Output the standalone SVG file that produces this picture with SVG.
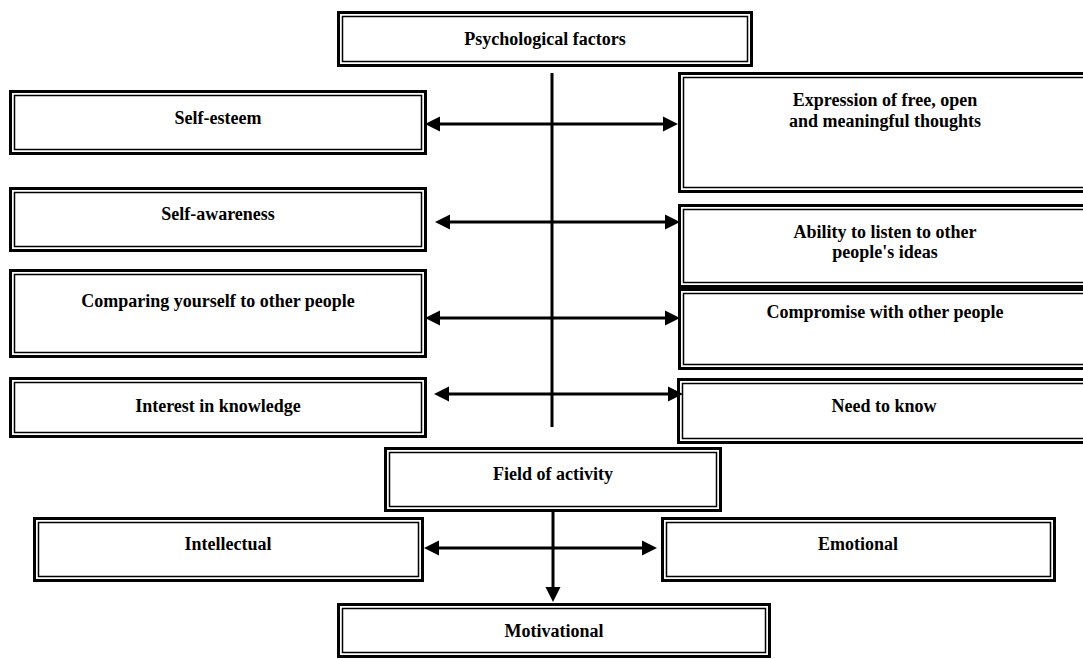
<svg xmlns="http://www.w3.org/2000/svg" width="1083" height="659" viewBox="0 0 1083 659">
<style>
.o{fill:#fff;stroke:#000;stroke-width:3}
.i{fill:none;stroke:#000;stroke-width:1.5}
.t{font-family:"Liberation Serif","Times New Roman",serif;font-weight:bold;font-size:18px;text-anchor:middle;fill:#000}
.c{stroke:#000;stroke-width:3;fill:none}
.a{marker-start:url(#ah);marker-end:url(#ah)}
.d{marker-end:url(#ah)}
</style>
<defs>
<marker id="ah" markerUnits="userSpaceOnUse" markerWidth="15" markerHeight="15" refX="5" refY="7.5" orient="auto-start-reverse" overflow="visible">
<path d="M0,0 L15,7.5 L0,15 z" fill="#000"/>
</marker>
</defs>
<rect width="1083" height="659" fill="#fff"/>

<g id="psych">
<rect class="o" x="338.5" y="12.5" width="413" height="53"/>
<rect class="i" x="342.5" y="16.5" width="405" height="45"/>
<text class="t" x="545" y="45">Psychological factors</text>
</g>

<g id="self-esteem">
<rect class="o" x="10.5" y="91.5" width="415" height="62"/>
<rect class="i" x="14.5" y="95.5" width="407" height="54"/>
<text class="t" x="218" y="124">Self-esteem</text>
</g>

<g id="self-awareness">
<rect class="o" x="10.5" y="188.5" width="415" height="62"/>
<rect class="i" x="14.5" y="192.5" width="407" height="54"/>
<text class="t" x="218" y="220">Self-awareness</text>
</g>

<g id="comparing">
<rect class="o" x="10.5" y="270.5" width="415" height="86"/>
<rect class="i" x="14.5" y="274.5" width="407" height="78"/>
<text class="t" x="218" y="307">Comparing yourself to other people</text>
</g>

<g id="interest">
<rect class="o" x="10.5" y="378.5" width="415" height="58"/>
<rect class="i" x="14.5" y="382.5" width="407" height="50"/>
<text class="t" x="218" y="412">Interest in knowledge</text>
</g>

<g id="expression">
<rect class="o" x="679.5" y="73.5" width="412" height="118"/>
<rect class="i" x="683.5" y="77.5" width="404" height="110"/>
<text class="t" x="885" y="106">Expression of free, open</text>
<text class="t" x="885" y="127">and meaningful thoughts</text>
</g>

<g id="ability">
<rect class="o" x="679.5" y="205.5" width="412" height="81"/>
<rect class="i" x="683.5" y="209.5" width="404" height="73"/>
<text class="t" x="885" y="238">Ability to listen to other</text>
<text class="t" x="885" y="258">people's ideas</text>
</g>

<g id="compromise">
<rect class="o" x="679.5" y="289.5" width="412" height="79"/>
<rect class="i" x="683.5" y="293.5" width="404" height="71"/>
<text class="t" x="885" y="318">Compromise with other people</text>
</g>

<g id="need">
<rect class="o" x="678.5" y="379.5" width="413" height="63"/>
<rect class="i" x="682.5" y="383.5" width="405" height="55"/>
<text class="t" x="884" y="412">Need to know</text>
</g>

<g id="field">
<rect class="o" x="385.5" y="448.5" width="335" height="62"/>
<rect class="i" x="389.5" y="452.5" width="327" height="54"/>
<text class="t" x="553" y="480">Field of activity</text>
</g>

<g id="intellectual">
<rect class="o" x="34.5" y="518.5" width="388" height="62"/>
<rect class="i" x="38.5" y="522.5" width="380" height="54"/>
<text class="t" x="228" y="550">Intellectual</text>
</g>

<g id="emotional">
<rect class="o" x="662.5" y="518.5" width="392" height="62"/>
<rect class="i" x="666.5" y="522.5" width="384" height="54"/>
<text class="t" x="858" y="550">Emotional</text>
</g>

<g id="motivational">
<rect class="o" x="338.5" y="604.5" width="431" height="52"/>
<rect class="i" x="342.5" y="608.5" width="423" height="44"/>
<text class="t" x="554" y="637">Motivational</text>
</g>

<g id="connectors">
<line class="c" x1="552" y1="73" x2="552" y2="427"/>
<line class="c a" x1="435" y1="124" x2="668" y2="124"/>
<line class="c a" x1="445" y1="222" x2="670" y2="222"/>
<line class="c a" x1="435" y1="318" x2="670" y2="318"/>
<line class="c a" x1="444" y1="394" x2="673" y2="394"/>
<line class="c d" x1="553" y1="512" x2="553" y2="592"/>
<line class="c a" x1="434" y1="548" x2="647" y2="548"/>
</g>
</svg>
